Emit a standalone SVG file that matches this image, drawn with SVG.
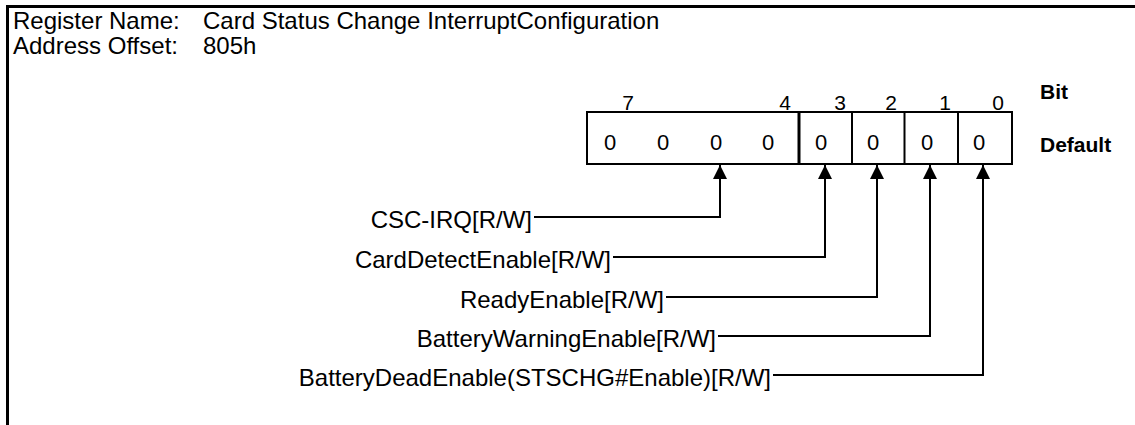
<svg xmlns="http://www.w3.org/2000/svg" width="1135" height="425" viewBox="0 0 1135 425">
<defs>
<style>
text{font-family:"Liberation Sans",Arial,sans-serif;fill:#000}
.h{font-size:24px}
.lbl{font-size:24px;text-anchor:end}
.v{font-size:22px;text-anchor:middle}
.bn{font-size:21px;text-anchor:middle}
.b{font-size:21px;font-weight:bold}
.frame{fill:none;stroke:#000;stroke-width:3}
.box{fill:#fff;stroke:#000;stroke-width:2}
.div{stroke:#000;stroke-width:2}
.con{fill:none;stroke:#000;stroke-width:2}
</style>
<marker id="ah" viewBox="0 0 14 14" refX="14" refY="7" markerWidth="14" markerHeight="14" markerUnits="userSpaceOnUse" orient="auto">
<path d="M0,0 L14,7 L0,14 Z" fill="#000"/>
</marker>
</defs>
<rect width="1135" height="425" fill="#fff"/>
<g id="frame">
<path class="frame" d="M7.5,425 V6.5 H1135"/>
</g>
<g id="header">
<text class="h" x="13" y="29">Register Name:</text>
<text class="h" x="203" y="29">Card Status Change InterruptConfiguration</text>
<text class="h" x="13" y="54">Address Offset:</text>
<text class="h" x="203" y="54">805h</text>
</g>
<g id="register">
<rect class="box" x="587" y="112" width="425" height="52"/>
<line class="div" x1="799" y1="112" x2="799" y2="164" style="stroke-width:3"/>
<line class="div" x1="852" y1="112" x2="852" y2="164"/>
<line class="div" x1="904.5" y1="112" x2="904.5" y2="164"/>
<line class="div" x1="958" y1="112" x2="958" y2="164"/>
<text class="bn" x="628" y="110">7</text>
<text class="bn" x="785" y="110">4</text>
<text class="bn" x="840" y="110">3</text>
<text class="bn" x="891" y="110">2</text>
<text class="bn" x="945" y="110">1</text>
<text class="bn" x="998" y="110">0</text>
<text class="v" x="610" y="150">0</text>
<text class="v" x="663" y="150">0</text>
<text class="v" x="716" y="150">0</text>
<text class="v" x="768" y="150">0</text>
<text class="v" x="821" y="150">0</text>
<text class="v" x="873" y="150">0</text>
<text class="v" x="927" y="150">0</text>
<text class="v" x="979" y="150">0</text>
<text class="b" x="1040" y="99">Bit</text>
<text class="b" x="1040" y="152">Default</text>
</g>
<g id="connectors">
<path class="con" d="M534,217 H720 V165" marker-end="url(#ah)"/>
<path class="con" d="M613,257 H825 V165" marker-end="url(#ah)"/>
<path class="con" d="M666,297 H877 V165" marker-end="url(#ah)"/>
<path class="con" d="M718,336 H930 V165" marker-end="url(#ah)"/>
<path class="con" d="M773,375 H983 V165" marker-end="url(#ah)"/>
</g>
<g id="label-csc"><text class="lbl" x="532" y="228">CSC-IRQ[R/W]</text></g>
<g id="label-carddetect"><text class="lbl" x="611" y="268">CardDetectEnable[R/W]</text></g>
<g id="label-ready"><text class="lbl" x="664" y="308">ReadyEnable[R/W]</text></g>
<g id="label-batterywarning"><text class="lbl" x="716" y="347">BatteryWarningEnable[R/W]</text></g>
<g id="label-batterydead"><text class="lbl" x="771" y="386">BatteryDeadEnable(STSCHG#Enable)[R/W]</text></g>
</svg>
